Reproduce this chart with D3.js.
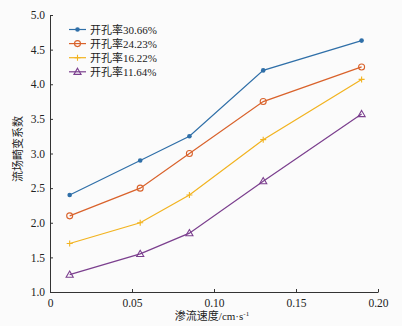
<!DOCTYPE html>
<html><head><meta charset="utf-8">
<script src="https://cdn.jsdelivr.net/npm/d3@7"></script>
<style>
body{margin:0;background:#fbfbfb;}
svg{display:block;}
text{font-family:"Liberation Serif","Noto Sans CJK SC",serif;fill:#222;}
</style></head>
<body>
<script>
const xValues = [0.012, 0.055, 0.085, 0.13, 0.19];
const seriesNames = ["开孔率30.66%", "开孔率24.23%", "开孔率16.22%", "开孔率11.64%"];
const s1 = [2.40, 2.90, 3.25, 4.20, 4.63];
const s2 = [2.10, 2.50, 3.00, 3.75, 4.25];
const s3 = [1.70, 2.00, 2.40, 3.20, 4.07];
const s4 = [1.25, 1.55, 1.85, 2.60, 3.57];
const xTicks = [0, 0.05, 0.10, 0.15, 0.20];
const xTickLabels = ["0", "0.05", "0.10", "0.15", "0.20"];
const yTicks = [1.0, 1.5, 2.0, 2.5, 3.0, 3.5, 4.0, 4.5, 5.0];
const colors = ["#2f6fa8", "#d9622b", "#f2b31f", "#7b3f8e"];
const symbols = ["circle", "ring", "plus", "triangle"];

const W = 402, H = 326;
const m = {l: 50, r: 24, t: 15, b: 34};
const svg = d3.select("body").append("svg").attr("width", W).attr("height", H);
const x = d3.scaleLinear().domain([0, 0.2]).range([m.l, W - m.r]);
const y = d3.scaleLinear().domain([1, 5]).range([H - m.b, m.t]);

const gx = svg.append("g").attr("transform", `translate(0,${H - m.b})`)
  .call(d3.axisBottom(x).tickValues(xTicks).tickFormat((d, i) => xTickLabels[i]).tickSizeInner(-3).tickSizeOuter(0).tickPadding(7));
const gy = svg.append("g").attr("transform", `translate(${m.l},0)`)
  .call(d3.axisLeft(y).tickValues(yTicks).tickFormat(d3.format(".1f")).tickSizeInner(-3).tickSizeOuter(0).tickPadding(5));
[gx, gy].forEach(g => {
  g.selectAll("path,line").attr("stroke", "#333").attr("stroke-width", 1);
  g.selectAll("text").attr("font-size", 11.5).attr("fill", "#222");
});
gy.select(".tick:last-of-type line").attr("x2", 3);

svg.append("text").attr("x", 212).attr("y", 320).attr("text-anchor", "middle").attr("font-size", 11)
  .html('渗流速度/cm·s<tspan dy="-4" font-size="7">-1</tspan>');
svg.append("text").attr("transform", `translate(22,149) rotate(-90)`).attr("text-anchor", "middle")
  .attr("font-size", 11).text("流场畸变系数");

const data = [s1, s2, s3, s4];
const line = d3.line().x((d, i) => x(xValues[i])).y(d => y(d));

function drawMarker(g, type, c, cx, cy) {
  if (type === "circle") g.append("circle").attr("cx", cx).attr("cy", cy).attr("r", 2.3).attr("fill", c);
  else if (type === "ring") g.append("circle").attr("cx", cx).attr("cy", cy).attr("r", 3).attr("fill", "none").attr("stroke", c).attr("stroke-width", 1.1);
  else if (type === "plus") g.append("path").attr("d", `M${cx-3},${cy}H${cx+3}M${cx},${cy-3}V${cy+3}`).attr("stroke", c).attr("stroke-width", 1.1);
  else g.append("path").attr("d", d3.symbol(d3.symbolTriangle, 22)()).attr("transform", `translate(${cx},${cy+0.5})`).attr("fill", "none").attr("stroke", c).attr("stroke-width", 1.1);
}

data.forEach((s, k) => {
  const g = svg.append("g");
  g.append("path").datum(s).attr("d", line).attr("fill", "none").attr("stroke", colors[k]).attr("stroke-width", 1.2);
  s.forEach((v, i) => drawMarker(g, symbols[k], colors[k], x(xValues[i]), y(v)));
});

const lg = svg.append("g");
seriesNames.forEach((n, k) => {
  const ly = 29.5 + k * 14.1;
  lg.append("line").attr("x1", 69).attr("x2", 86).attr("y1", ly).attr("y2", ly).attr("stroke", colors[k]).attr("stroke-width", 1.2);
  drawMarker(lg, symbols[k], colors[k], 77.5, ly);
  lg.append("text").attr("x", 90).attr("y", ly + 4).attr("font-size", 11).text(n);
});
</script>
</body></html>
